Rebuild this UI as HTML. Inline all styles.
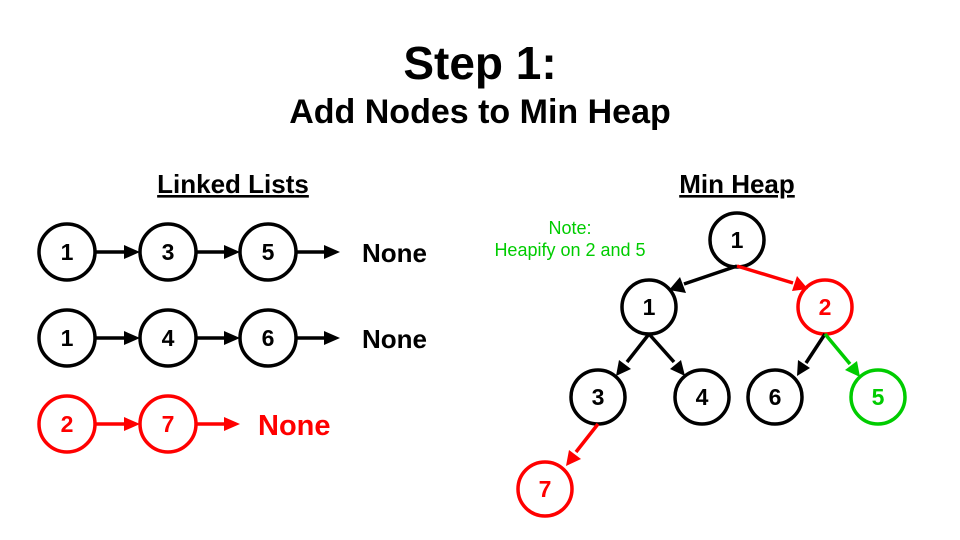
<!DOCTYPE html>
<html><head><meta charset="utf-8"><style>
html,body{margin:0;padding:0;background:#fff;}
svg{display:block;font-family:"Liberation Sans",Arial,sans-serif;}
</style></head><body>
<svg width="960" height="540" viewBox="0 0 960 540" xmlns="http://www.w3.org/2000/svg">
<rect width="960" height="540" fill="#fff"/>
<text x="480" y="79" text-anchor="middle" font-size="46" font-weight="bold">Step 1:</text>
<text x="480" y="123" text-anchor="middle" font-size="34" font-weight="bold">Add Nodes to Min Heap</text>
<text x="233" y="193" text-anchor="middle" font-size="26" font-weight="bold" text-decoration="underline">Linked Lists</text>
<text x="737" y="193" text-anchor="middle" font-size="26" font-weight="bold" text-decoration="underline">Min Heap</text>

<g stroke-width="3.5" fill="none">
<g stroke="#000">
<circle cx="67" cy="252" r="28"/><circle cx="168" cy="252" r="28"/><circle cx="268" cy="252" r="28"/>
<circle cx="67" cy="338" r="28"/><circle cx="168" cy="338" r="28"/><circle cx="268" cy="338" r="28"/>
</g>
<g stroke="#f00">
<circle cx="67" cy="424" r="28"/><circle cx="168" cy="424" r="28"/>
</g>
<g stroke="#000">
<circle cx="737" cy="240" r="27"/><circle cx="649" cy="307" r="27"/>
<circle cx="598" cy="397" r="27"/><circle cx="702" cy="397" r="27"/><circle cx="775" cy="397" r="27"/>
</g>
<circle cx="825" cy="307" r="27" stroke="#f00"/>
<circle cx="878" cy="397" r="27" stroke="#0c0"/>
<circle cx="545" cy="489" r="27" stroke="#f00"/>
</g>

<g stroke-width="3.5">
<g stroke="#000">
<line x1="96" y1="252" x2="126" y2="252"/><line x1="197" y1="252" x2="226" y2="252"/><line x1="297" y1="252" x2="326" y2="252"/>
<line x1="96" y1="338" x2="126" y2="338"/><line x1="197" y1="338" x2="226" y2="338"/><line x1="297" y1="338" x2="326" y2="338"/>
<line x1="737" y1="266" x2="684" y2="284"/>
<line x1="649" y1="334" x2="627" y2="362"/>
<line x1="649" y1="334" x2="674" y2="362"/>
<line x1="825" y1="334" x2="806" y2="363"/>
</g>
<g stroke="#f00">
<line x1="96" y1="424" x2="126" y2="424"/><line x1="197" y1="424" x2="226" y2="424"/>
<line x1="737" y1="266" x2="793" y2="283"/>
<line x1="598" y1="424" x2="576" y2="452"/>
</g>
<line stroke="#0c0" x1="825" y1="334" x2="850" y2="364"/>
</g>
<g fill="#000">
<path d="M140,252 L124,245 L124,259 z"/><path d="M240,252 L224,245 L224,259 z"/><path d="M340,252 L324,245 L324,259 z"/>
<path d="M140,338 L124,331 L124,345 z"/><path d="M240,338 L224,331 L224,345 z"/><path d="M340,338 L324,331 L324,345 z"/>
<path d="M669,290 L680,277 L686,293 z"/>
<path d="M616,376 L619,360 L631,369 z"/>
<path d="M685,376 L670,369 L681,360 z"/>
<path d="M797,376 L798,360 L810,368 z"/>
</g>
<g fill="#f00">
<path d="M140,424 L124,417 L124,431 z"/><path d="M240,424 L224,417 L224,431 z"/>
<path d="M808,289 L792,291 L797,276 z"/>
<path d="M566,466 L569,450 L581,459 z"/>
</g>
<path fill="#0c0" d="M860,377 L845,370 L857,361 z"/>

<g font-size="23" font-weight="bold" text-anchor="middle">
<text x="67" y="260">1</text><text x="168" y="260">3</text><text x="268" y="260">5</text>
<text x="67" y="346">1</text><text x="168" y="346">4</text><text x="268" y="346">6</text>
<text x="737" y="248">1</text><text x="649" y="315">1</text>
<text x="598" y="405">3</text><text x="702" y="405">4</text><text x="775" y="405">6</text>
<g fill="#f00"><text x="67" y="432">2</text><text x="168" y="432">7</text><text x="825" y="315">2</text><text x="545" y="497">7</text></g>
<text x="878" y="405" fill="#0c0">5</text>
</g>
<text x="362" y="262" font-size="26" font-weight="bold">None</text>
<text x="362" y="348" font-size="26" font-weight="bold">None</text>
<text x="258" y="435" font-size="29" font-weight="bold" fill="#f00">None</text>
<g fill="#0c0" font-size="18" text-anchor="middle">
<text x="570" y="234">Note:</text>
<text x="570" y="256">Heapify on 2 and 5</text>
</g>
</svg>
</body></html>
